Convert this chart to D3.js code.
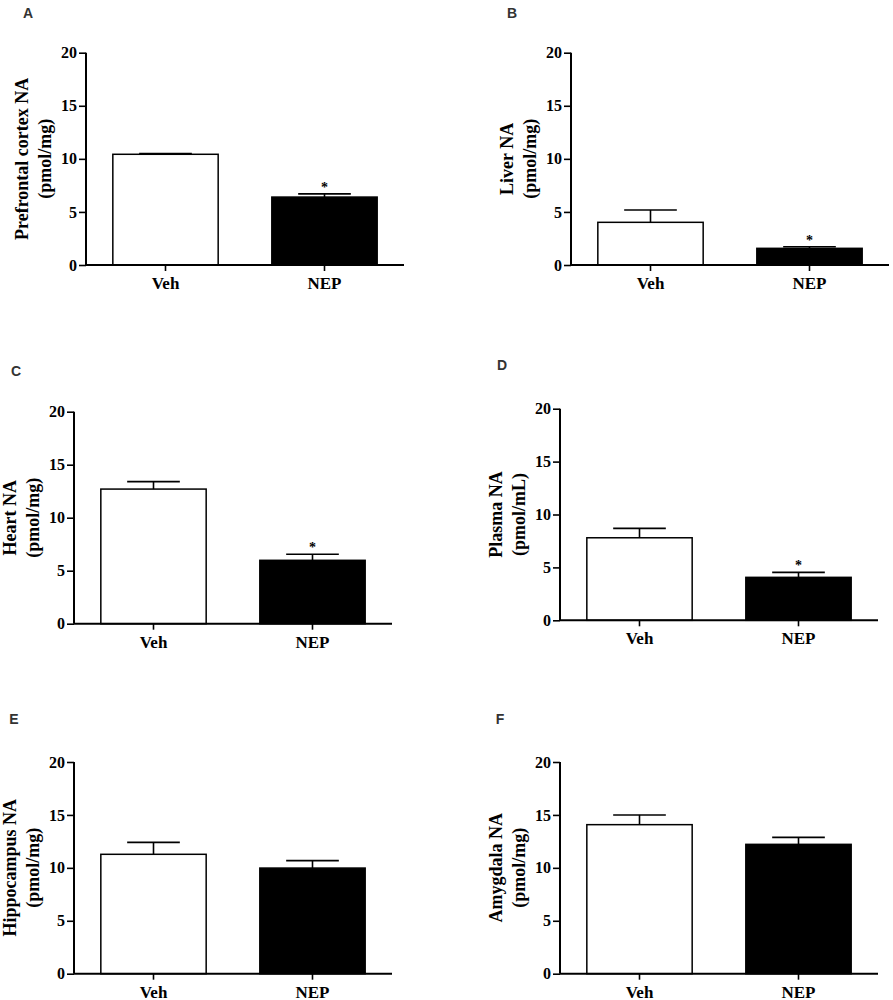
<!DOCTYPE html>
<html>
<head>
<meta charset="utf-8">
<script src="https://cdn.jsdelivr.net/npm/d3@7"></script>
<style>
  body { margin: 0; background: #fff; }
  svg { display: block; }
</style>
</head>
<body>
<svg id="chart" width="893" height="1000"></svg>
<script>
// data
const groups = ["Veh", "NEP"];
const letters = ["A", "B", "C", "D", "E", "F"];
const titles = [
  ["Prefrontal cortex NA", "(pmol/mg)"],
  ["Liver NA", "(pmol/mg)"],
  ["Heart NA", "(pmol/mg)"],
  ["Plasma NA", "(pmol/mL)"],
  ["Hippocampus NA", "(pmol/mg)"],
  ["Amygdala NA", "(pmol/mg)"]
];
const means = [[10.43, 6.4], [4.02, 1.57], [12.7, 5.98], [7.8, 4.06], [11.28, 9.98], [14.08, 12.22]];
const sems = [[0.08, 0.3], [1.16, 0.15], [0.7, 0.57], [0.89, 0.47], [1.13, 0.7], [0.92, 0.66]];
const stars = [[false, true], [false, true], [false, true], [false, true], [false, false], [false, false]];
const yTicks = [0, 5, 10, 15, 20];

// panel layout: axis origin x, top and bottom of the y axis, letter position
const layout = [
  { x: 86,  top: 52.7,  bottom: 265,   lx: 28,  ly: 13 },
  { x: 571, top: 52.7,  bottom: 265,   lx: 512, ly: 13 },
  { x: 74,  top: 411.7, bottom: 623.7, lx: 16,  ly: 371 },
  { x: 560, top: 408.7, bottom: 620.3, lx: 502, ly: 365 },
  { x: 74,  top: 762,   bottom: 973.7, lx: 14,  ly: 719 },
  { x: 560, top: 762,   bottom: 973.7, lx: 500, ly: 719 }
];
const plotW = 318;
const serif = '"Liberation Serif", "Times New Roman", serif';

const svg = d3.select("#chart");

letters.forEach((letter, i) => {
  const L = layout[i];
  const g = svg.append("g").attr("transform", `translate(${L.x},0)`);

  const x = d3.scaleBand().domain(groups).range([0, plotW])
      .paddingInner(0.3375).paddingOuter(0.16875);
  const y = d3.scaleLinear().domain([0, 20]).range([L.bottom, L.top]);

  // bars
  g.selectAll("rect.bar")
    .data(groups)
    .enter().append("rect")
    .attr("class", "bar")
    .attr("x", d => x(d))
    .attr("width", x.bandwidth())
    .attr("y", (d, j) => y(means[i][j]))
    .attr("height", (d, j) => y(0) - y(means[i][j]))
    .attr("fill", (d, j) => j === 0 ? "#fff" : "#000")
    .attr("stroke", "#000")
    .attr("stroke-width", 1.5);

  // error bars (upper half only)
  const capW = x.bandwidth() / 2;
  groups.forEach((grp, j) => {
    const cx = x(grp) + x.bandwidth() / 2;
    const yTop = y(means[i][j] + sems[i][j]);
    g.append("line")
      .attr("x1", cx).attr("x2", cx)
      .attr("y1", y(means[i][j])).attr("y2", yTop)
      .attr("stroke", "#000").attr("stroke-width", 1.6);
    g.append("line")
      .attr("x1", cx - capW / 2).attr("x2", cx + capW / 2)
      .attr("y1", yTop).attr("y2", yTop)
      .attr("stroke", "#000").attr("stroke-width", 1.6);
    if (stars[i][j]) {
      g.append("text")
        .attr("x", cx).attr("y", yTop - 2)
        .attr("text-anchor", "middle")
        .attr("font-family", serif)
        .attr("font-weight", "bold")
        .attr("font-size", 14)
        .text("*");
    }
  });

  // y axis
  const yAxis = g.append("g")
    .attr("font-family", serif)
    .call(d3.axisLeft(y).tickValues(yTicks).tickSize(7).tickPadding(2));
  yAxis.attr("font-family", serif);
  yAxis.select(".domain").attr("stroke-width", 2).attr("d", `M0,${L.top}V${L.bottom}`);
  yAxis.selectAll(".tick line").attr("stroke-width", 1.6);
  yAxis.selectAll(".tick text")
    .attr("font-family", serif).attr("font-weight", "bold")
    .attr("font-size", 16).attr("fill", "#000");

  // x axis
  const xAxis = g.append("g")
    .attr("transform", `translate(0,${L.bottom})`)
    .call(d3.axisBottom(x).tickSize(6).tickPadding(6));
  xAxis.attr("font-family", serif);
  xAxis.select(".domain").attr("stroke-width", 2).attr("d", `M0,0H${plotW}`);
  xAxis.selectAll(".tick line").attr("stroke-width", 1.6);
  xAxis.selectAll(".tick text")
    .attr("font-family", serif).attr("font-weight", "bold")
    .attr("font-size", 17).attr("fill", "#000");

  // y title, two lines
  const midY = (L.top + L.bottom) / 2;
  titles[i].forEach((line, k) => {
    g.append("text")
      .attr("transform", `translate(${k === 0 ? -64 : -41},${midY}) rotate(-90)`)
      .attr("text-anchor", "middle")
      .attr("dominant-baseline", "central")
      .attr("font-family", serif)
      .attr("font-weight", "bold")
      .attr("font-size", 18)
      .text(line);
  });

  // panel letter
  svg.append("text")
    .attr("x", L.lx).attr("y", L.ly)
    .attr("text-anchor", "middle")
    .attr("dominant-baseline", "central")
    .attr("font-family", '"Liberation Sans", Arial, sans-serif')
    .attr("font-weight", "bold")
    .attr("font-size", 14)
    .attr("fill", "#333")
    .text(letter);
});
</script>
</body>
</html>
